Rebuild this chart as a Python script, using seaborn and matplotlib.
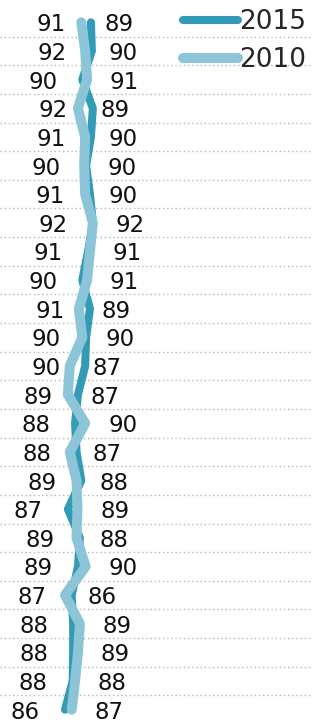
import pandas as pd
import matplotlib
matplotlib.use("Agg")
import matplotlib.pyplot as plt
from matplotlib.lines import Line2D
import seaborn as sns

# ====================
# DATA
# ====================
rows = list(range(25))
values_2015 = [91.4, 91.6, 89.6, 91.8, 91.4, 90.4, 91.2, 91.8, 90.8, 89.6, 91.2, 90.4, 90.2,
               88.7, 88.1, 88.4, 89.4, 86.6, 89.1, 88.7, 87.4, 87.7, 87.7, 87.6, 86.0]
values_2010 = [89.4, 90.2, 90.6, 88.7, 90.2, 90.0, 90.2, 91.8, 91.2, 90.6, 88.9, 89.6, 87.0,
               86.6, 90.2, 87.0, 88.4, 88.6, 88.4, 90.3, 86.0, 89.1, 88.7, 88.1, 87.4]
years = ["2015", "2010"]
colors = {"2015": "#339bb5", "2010": "#8cc5d7"}
widths = {"2015": 5.8, "2010": 7.2}

df = pd.DataFrame({
    "row": rows * 2,
    "value": values_2015 + values_2010,
    "year": ["2015"] * len(rows) + ["2010"] * len(rows),
})

# ====================
# PLOT
# ====================
sns.set_theme(style="white")
plt.rcParams["font.family"] = ["DejaVu Sans"]

fig = plt.figure(figsize=(3.12, 7.24), dpi=100)
ax = fig.add_axes([0, 0, 1, 1])

sns.lineplot(data=df, x="value", y="row", hue="year", hue_order=years, palette=colors,
             size="year", size_order=years, sizes=widths, orient="y", sort=False,
             errorbar=None, legend=False, ax=ax, solid_capstyle="round")

# value labels: 2015 on the left, 2010 on the right
for r, v in zip(rows, values_2015):
    ax.annotate(f"{v:.0f}", (v, r), xytext=(-18, 0), textcoords="offset points",
                ha="right", va="center_baseline", fontsize=16.5, color="#111111")
for r, v in zip(rows, values_2010):
    ax.annotate(f"{v:.0f}", (v, r), xytext=(16.5, 0), textcoords="offset points",
                ha="left", va="center_baseline", fontsize=16.5, color="#111111")

ax.set_xlim(72.46, 137.46)
ax.set_ylim(24.5, -0.78)
ax.set_yticks([r + 0.5 for r in rows[:-1]])
ax.set_xticks([])
ax.yaxis.grid(True, color="#b5b5b5", linestyle=(0, (1, 2)), linewidth=1)
ax.tick_params(left=False, labelleft=False)
ax.set_xlabel("")
ax.set_ylabel("")
sns.despine(ax=ax, left=True, bottom=True)

handles = [Line2D([], [], color=colors[y], lw=widths[y], solid_capstyle="round") for y in years]
ax.legend(handles, years, loc="upper right", bbox_to_anchor=(1.012, 1.0), frameon=False,
          fontsize=19, handlelength=2.1, handletextpad=0.05, labelspacing=0.45,
          borderaxespad=0.25, borderpad=0.1)

fig.savefig("out.png", dpi=100)
plt.close()
